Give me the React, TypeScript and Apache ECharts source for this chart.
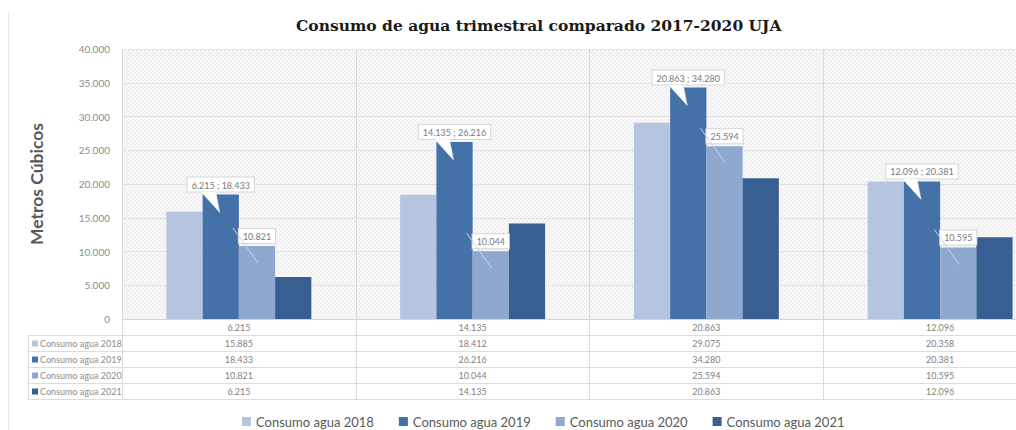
import React, { useEffect, useRef } from 'react';
import * as echarts from 'echarts';

const categories = ['6.215', '14.135', '20.863', '12.096'];
const seriesNames = ['Consumo agua 2018', 'Consumo agua 2019', 'Consumo agua 2020', 'Consumo agua 2021'];
const agua2018 = [15885, 18412, 29075, 20358];
const agua2019 = [18433, 26216, 34280, 20381];
const agua2020 = [10821, 10044, 25594, 10595];
const agua2021 = [6215, 14135, 20863, 12096];
const seriesValues = [agua2018, agua2019, agua2020, agua2021];
const colors = ['#b5c4df', '#4571a9', '#8fa8d0', '#375f92'];
const yMin = 0;
const yMax = 40000;
const yStep = 5000;

const fmt = (v: number) => String(v).replace(/\B(?=(\d{3})+(?!\d))/g, '.');

const W = 1016;
const CW = 1064;
const H = 430;
const GL = 122;
const GT = 49;
const GH = 270;
const GW = 935;
const ROW = 16;
const FONT = 'Lato, "Open Sans", sans-serif';

function makePattern(): string {
  const c = document.createElement('canvas');
  c.width = 4;
  c.height = 4;
  const ctx = c.getContext('2d');
  if (!ctx) return '';
  ctx.fillStyle = '#f8f8f8';
  ctx.fillRect(0, 0, 4, 4);
  ctx.fillStyle = '#e8e8e8';
  for (let i = 0; i < 4; i++) {
    ctx.fillRect(i, 3 - i, 1, 1);
  }
  return c.toDataURL();
}

export default function App() {
  const ref = useRef<HTMLDivElement>(null);
  useEffect(() => {
    if (!ref.current) return;
    const chart = echarts.init(ref.current, undefined, { renderer: 'svg' });
    const pattern = makePattern();
    const tableTop = GT + GH;

    const graphics: any[] = [];
    graphics.push({
      type: 'line',
      shape: { x1: 8.5, y1: 12, x2: 8.5, y2: H },
      style: { stroke: '#e8e8e8', lineWidth: 1 },
      silent: true,
    });
    for (let k = 1; k <= 5; k++) {
      const y = tableTop + ROW * k + 0.5;
      graphics.push({
        type: 'line',
        shape: { x1: 28, y1: y, x2: CW, y2: y },
        style: { stroke: '#dcdcdc', lineWidth: 1 },
        silent: true,
      });
    }
    graphics.push({
      type: 'line',
      shape: { x1: 28.5, y1: tableTop + ROW + 0.5, x2: 28.5, y2: tableTop + ROW * 5 + 0.5 },
      style: { stroke: '#dcdcdc', lineWidth: 1 },
      silent: true,
    });
    seriesNames.forEach((name, i) => {
      const cy = tableTop + ROW * (i + 1) + ROW / 2 + 0.5;
      graphics.push({
        type: 'rect',
        shape: { x: 32, y: cy - 3, width: 6, height: 6 },
        style: { fill: colors[i] },
        silent: true,
      });
      graphics.push({
        type: 'text',
        x: 40,
        y: cy,
        style: {
          text: name,
          fill: '#8c8c8c',
          font: '9px ' + FONT,
          textVerticalAlign: 'middle',
          verticalAlign: 'middle',
        },
        silent: true,
      });
    });

    const extraAxes = seriesValues.map((vals, k) => ({
      type: 'category',
      data: vals.map(fmt),
      gridIndex: 0,
      position: 'bottom',
      offset: ROW * (k + 1),
      axisLine: { show: false },
      axisTick: { show: false },
      splitLine: { show: false },
      axisLabel: { color: '#7f7f7f', fontSize: 9, fontFamily: FONT, margin: 4, interval: 0 },
    }));

    const barSeries = seriesNames.map((name, i) => {
      const s: any = {
        name,
        type: 'bar',
        data: seriesValues[i],
        barGap: '0%',
        barCategoryGap: '38%',
        itemStyle: { color: colors[i] },
      };
      if (i === 1 || i === 2) {
        s.label = {
          show: true,
          position: 'top',
          distance: 3,
          backgroundColor: '#ffffff',
          borderColor: '#d6d6d6',
          borderWidth: 1,
          padding: [3, 4, 2, 4],
          color: '#7a7a7a',
          fontSize: 9,
          fontFamily: FONT,
          formatter: (p: any) =>
            i === 1 ? `${fmt(agua2021[p.dataIndex])} ; ${fmt(p.value)}` : fmt(p.value),
        };
      }
      return s;
    });

    const calloutData = categories.map((_, i) => [i, agua2019[i], agua2020[i]]);

    const calloutSeries: any = {
      type: 'custom',
      name: 'callouts',
      data: calloutData,
      z: 3,
      silent: true,
      renderItem: (params: any, api: any) => {
        const idx = api.value(0);
        const p19 = api.coord([idx, api.value(1)]);
        const p20 = api.coord([idx, api.value(2)]);
        const band = api.size([1, 0])[0];
        const bw = (band * 0.62) / 4;
        const c19 = p19[0] - bw / 2;
        const c20 = p20[0] + bw / 2;
        return {
          type: 'group',
          children: [
            {
              type: 'polygon',
              shape: {
                points: [
                  [c19 - 20, p19[1] - 3],
                  [c19 - 5, p19[1] - 3],
                  [c19 - 1, p19[1] + 18],
                ],
              },
              style: { fill: '#ffffff', stroke: '#e4e4e4', lineWidth: 0.5 },
            },
            {
              type: 'line',
              shape: { x1: c20 - 24, y1: p20[1] - 18, x2: c20 + 1, y2: p20[1] + 17 },
              style: { stroke: '#c9d3e4', lineWidth: 1 },
            },
          ],
        };
      },
    };

    chart.setOption({
      animation: false,
      backgroundColor: '#ffffff',
      title: {
        text: 'Consumo de agua trimestral comparado 2017-2020 UJA',
        left: 291,
        top: 12,
        textStyle: {
          fontFamily: '"DejaVu Serif", serif',
          fontWeight: 'bold',
          fontSize: 15.5,
          color: '#1a1a1a',
        },
      },
      legend: {
        data: seriesNames,
        left: 237,
        top: 410,
        icon: 'rect',
        itemWidth: 9,
        itemHeight: 9,
        itemGap: 25,
        textStyle: { fontFamily: FONT, fontSize: 13, color: '#595959' },
      },
      grid: {
        left: GL,
        top: GT,
        width: GW,
        height: GH,
        show: true,
        borderWidth: 0,
        backgroundColor: pattern ? { image: pattern, repeat: 'repeat' } : '#f4f4f4',
      },
      xAxis: [
        {
          type: 'category',
          data: categories,
          gridIndex: 0,
          position: 'bottom',
          axisLine: { show: true, lineStyle: { color: '#d4d4d4' } },
          axisTick: { show: true, length: ROW * 5, lineStyle: { color: '#dcdcdc' } },
          splitLine: { show: true, lineStyle: { color: '#d9d9d9', width: 1 } },
          axisLabel: { color: '#7f7f7f', fontSize: 9, fontFamily: FONT, margin: 4, interval: 0 },
        },
        ...extraAxes,
      ],
      yAxis: {
        type: 'value',
        min: yMin,
        max: yMax,
        interval: yStep,
        name: 'Metros Cúbicos',
        nameLocation: 'middle',
        nameGap: 77,
        nameRotate: 90,
        nameTextStyle: { fontFamily: FONT, fontSize: 17.5, fontWeight: 'bold', color: '#595959' },
        axisLine: { show: false },
        axisTick: { show: false },
        axisLabel: { color: '#8c8c8c', fontSize: 10, fontFamily: FONT, margin: 12, formatter: (v: number) => fmt(v) },
        splitLine: { show: true, lineStyle: { color: '#d2d2d2', type: 'dotted' } },
      },
      series: [...barSeries, calloutSeries],
      graphic: graphics,
    });
    return () => chart.dispose();
  }, []);
  return (
    <div style={{ position: 'fixed', left: 0, top: 0, width: W, height: H, overflow: 'hidden' }}>
      <div ref={ref} style={{ width: CW, height: H }} />
    </div>
  );
}
